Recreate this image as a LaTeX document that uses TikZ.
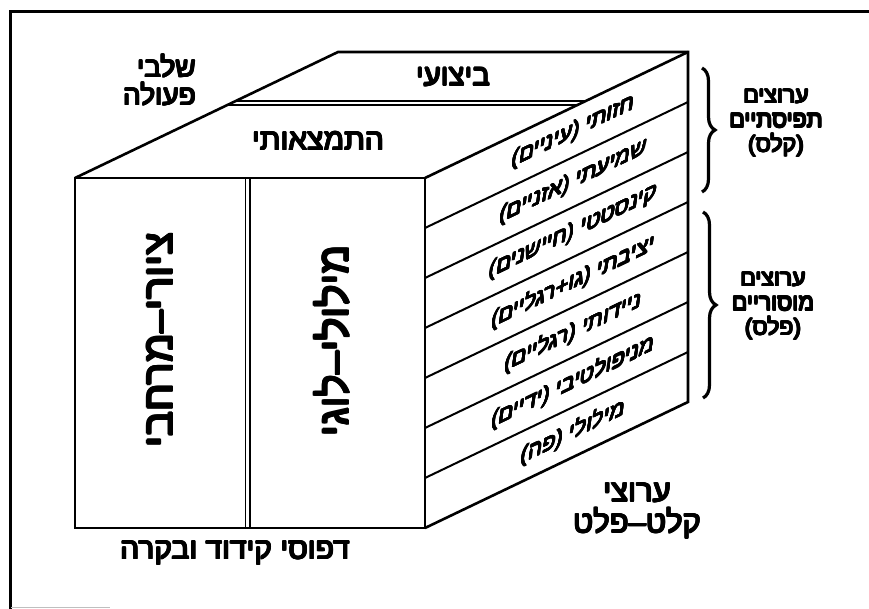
\documentclass[tikz,border=0pt]{standalone}
\usepackage{fontspec}
\setmainfont{Liberation Sans}
\newfontfamily\heb[Script=Hebrew]{Liberation Sans}
\TeXXeTstate=1
\usetikzlibrary{calc,decorations.pathreplacing}
\newcommand{\hb}[1]{\beginR #1\endR}
\newsavebox\thkbox
\newdimen\thkd
\newdimen\thke
\newcommand{\thk}[2]{\thkd=#1\relax\thke=.7071\thkd
  \sbox\thkbox{#2}%
  \rlap{\kern\thkd\copy\thkbox}\rlap{\kern-\thkd\copy\thkbox}%
  \rlap{\raise\thkd\copy\thkbox}\rlap{\lower\thkd\copy\thkbox}%
  \rlap{\kern\thke\raise\thke\copy\thkbox}\rlap{\kern\thke\lower\thke\copy\thkbox}%
  \rlap{\kern-\thke\raise\thke\copy\thkbox}\rlap{\kern-\thke\lower\thke\copy\thkbox}%
  \copy\thkbox}
\newcommand{\B}[1]{\thk{0.8pt}{\hb{#1}}}
\newcommand{\M}[1]{\thk{0.5pt}{\hb{#1}}}
\begin{document}
\begin{tikzpicture}[x=1pt,y=-1pt,
  edge/.style={line width=2.6pt, line join=miter},
  band/.style={line width=2pt},
  dbl/.style={line width=1.3pt},
  bold/.style={font=\heb\fontsize{#1}{#1}\selectfont, inner sep=0pt, align=center},
  facelbl/.style={font=\heb\fontsize{22}{22}\selectfont, inner sep=0pt, yslant=0.479, xslant=0.15},
  vert/.style={font=\heb\fontsize{42}{42}\selectfont, inner sep=0pt, rotate=90},
  bracestyle/.style={decorate, decoration={brace, amplitude=13pt}, line width=3.2pt}]
\useasboundingbox (0,0) rectangle (869,609);
% frame
\draw[line width=3pt] (10,609) -- (10,12) -- (869,12);
\draw[gray!50, line width=1pt] (11,607) -- (110,607);
% cube corners
\coordinate (A) at (75,178);
\coordinate (B) at (425,178);
\coordinate (C) at (425,528);
\coordinate (D) at (75,528);
\coordinate (E) at (338,52);
\coordinate (F) at (688,52);
\coordinate (G) at (688,402);
% bands on right face
\foreach \k in {1,...,6}
  \draw[band] ($(B)!\k/7!(C)$) -- ($(F)!\k/7!(G)$);
% double lines
\draw[dbl] (245.5,178) -- (245.5,528);
\draw[dbl] (250,178) -- (250,528);
\draw[dbl] ($(A)!0.611!(E)$) -- ($(B)!0.611!(F)$);
\draw[dbl] ($(A)!0.579!(E)$) -- ($(B)!0.579!(F)$);
% edges
\draw[edge] (A) -- (B) -- (C) -- (D) -- cycle;
\draw[edge] (A) -- (E) -- (F) -- (G) -- (C);
\draw[edge] (B) -- (F);
% right face labels
\foreach \k/\t in {1/{חזותי (עיניים)}, 2/{שמיעתי (אזניים)}, 3/{קינסטטי (חיישנים)},
                   4/{יציבתי (גו+רגליים)}, 5/{ניידותי (רגליים)}, 6/{מניפולטיבי (ידיים)},
                   7/{מילולי (פה)}}
  \node[facelbl] (f\k) at ($(B)!0.563!(F)+(0,{(\k-0.5)*50})$) {\M{\t}};
% top face labels
\node[bold=29.5] (bitz) at (453,77) {\B{ביצועי}};
\node[bold=30] (hitm) at (318,141) {\B{התמצאותי}};
% front labels
\node[vert] (ziy) at (160,340) {\thk{0.9pt}{\hb{ציורי–מרחבי}}};
\node[vert] (mil) at (332,341) {\thk{0.9pt}{\hb{מילולי–לוגי}}};
% outer labels
\node[bold=28, align=right, anchor=east] (shl) at (196,80) {\B{שלבי}\\[0pt]\B{פעולה}};
\node[bold=30] (dfs) at (235,553) {\B{דפוסי קידוד ובקרה}};
\node[bold=31] (arz) at (637,511) {\B{ערוצי}\\[0pt]\B{קלט–פלט}};
\node[font=\heb\fontsize{23}{24.5}\selectfont, inner sep=0pt, align=center] (taf) at (776,123)
  {\B{ערוצים}\\\B{תפיסתיים}\\\B{(קלס)}};
\node[font=\heb\fontsize{23}{24.5}\selectfont, inner sep=0pt, align=center] (mot) at (773,306)
  {\B{ערוצים}\\\B{מוסוריים}\\\B{(פלס)}};
% braces
\coordinate (b1t) at (702,68);
\coordinate (b1b) at (702,192);
\coordinate (b2t) at (703,212);
\coordinate (b2b) at (703,398);
\draw[bracestyle] (b1t) -- (b1b);
\draw[bracestyle] (b2t) -- (b2b);
\end{tikzpicture}
\end{document}
